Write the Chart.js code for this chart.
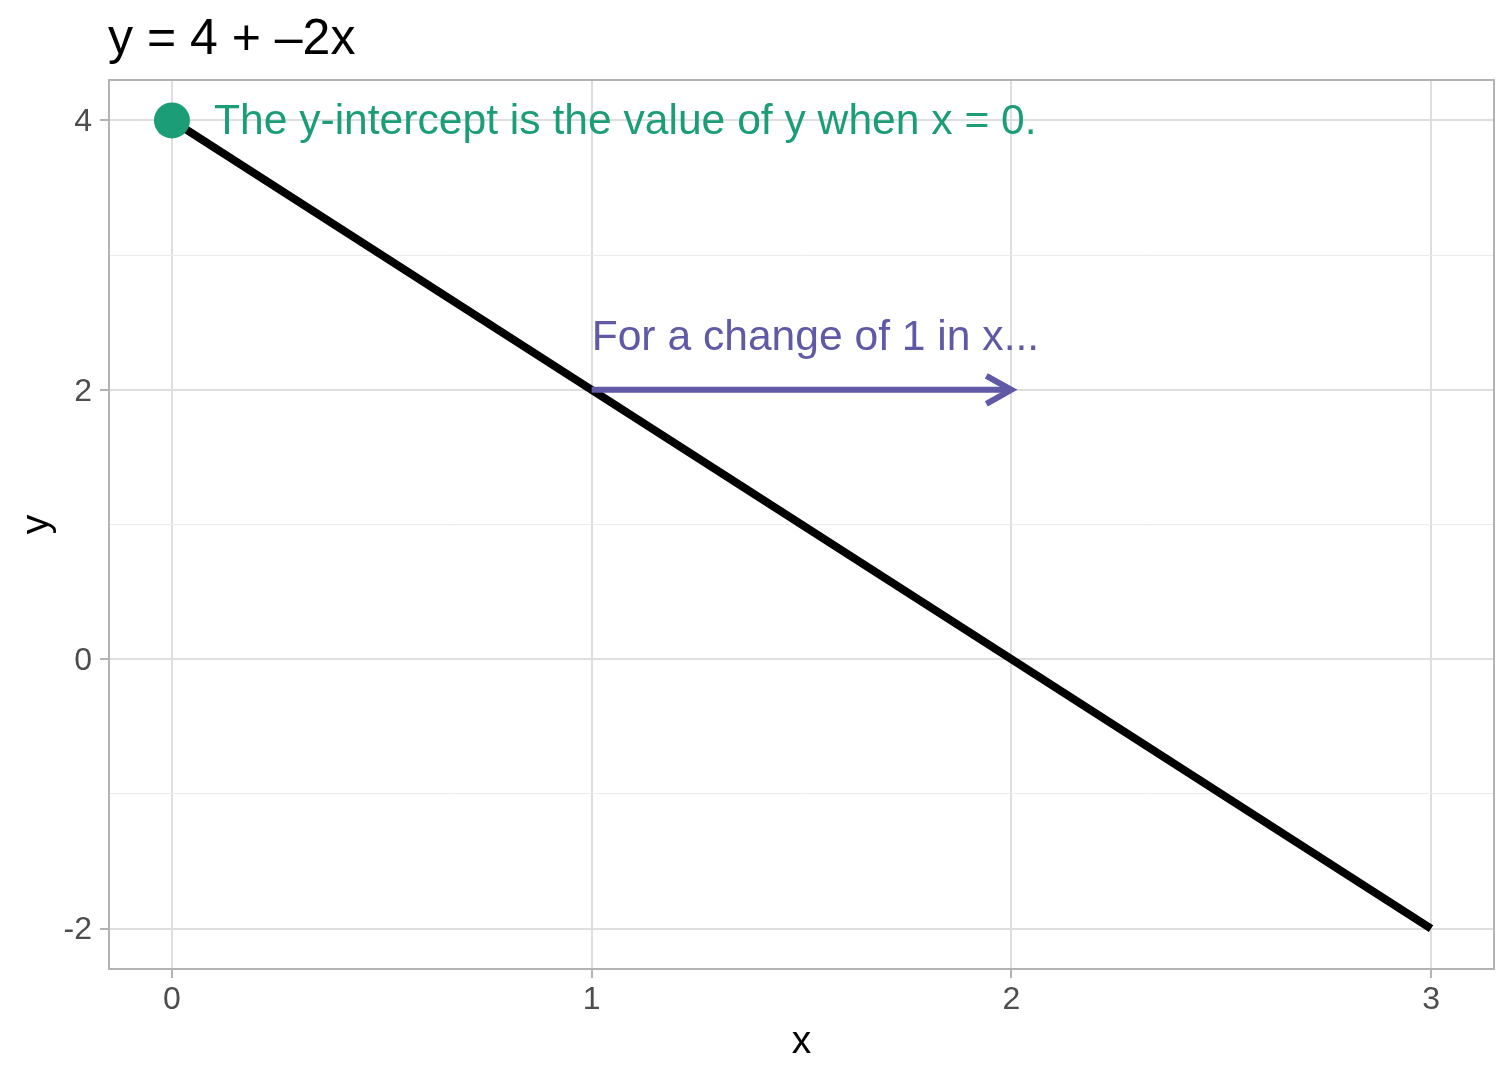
<!DOCTYPE html>
<html>
<head>
<meta charset="utf-8">
<title>y = 4 + –2x</title>
<script src="https://cdn.jsdelivr.net/npm/chart.js"></script>
<style>
    html, body { margin: 0; padding: 0; background: #fff; }
    canvas { display: block; }
</style>
</head>
<body>
<canvas id="lineChart" width="1512" height="1080"></canvas>
<script>
// data
const xTicks = [0, 1, 2, 3];
const yTicks = [-2, 0, 2, 4];
const yMinor = [-1, 1, 3];
const lineX = [0, 1, 2, 3];
const lineY = [4, 2, 0, -2];
const interceptX = [0];
const interceptY = [4];
const arrowX = [1, 2];
const arrowY = [2, 2];

const titleText = 'y = 4 + –2x';
const interceptLabel = 'The y-intercept is the value of y when x = 0.';
const slopeLabel = 'For a change of 1 in x...';

const green = '#1B9E77';
const purple = '#5F59A6';
const fontFamily = '"Liberation Sans", Arial, Helvetica, sans-serif';

Chart.defaults.font.family = fontFamily;

function toPoints(xs, ys) {
    return xs.map((v, i) => ({ x: v, y: ys[i] }));
}

// title, arrow head, text labels and panel border
const annotationPlugin = {
    id: 'annotations',
    afterDatasetsDraw(chart) {
        const { ctx, chartArea, scales: { x, y } } = chart;
        ctx.save();

        // arrow head at the end of the purple segment
        const tipX = x.getPixelForValue(arrowX[arrowX.length - 1]);
        const tipY = y.getPixelForValue(arrowY[arrowY.length - 1]);
        ctx.strokeStyle = purple;
        ctx.lineWidth = 6;
        ctx.lineJoin = 'miter';
        ctx.lineCap = 'butt';
        ctx.beginPath();
        ctx.moveTo(tipX - 25, tipY - 14);
        ctx.lineTo(tipX, tipY);
        ctx.lineTo(tipX - 25, tipY + 14);
        ctx.stroke();

        // labels
        ctx.font = '42.6px ' + fontFamily;
        ctx.textAlign = 'left';
        ctx.textBaseline = 'middle';
        ctx.fillStyle = green;
        ctx.fillText(interceptLabel, x.getPixelForValue(0.1), y.getPixelForValue(4) + 2);
        ctx.fillStyle = purple;
        ctx.fillText(slopeLabel, x.getPixelForValue(1), y.getPixelForValue(2.4) + 2);

        // panel border
        ctx.strokeStyle = '#B3B3B3';
        ctx.lineWidth = 2;
        ctx.strokeRect(chartArea.left, chartArea.top, chartArea.width, chartArea.height);
        ctx.restore();
    },
    afterDraw(chart) {
        const ctx = chart.ctx;
        ctx.save();
        ctx.font = '50px ' + fontFamily;
        ctx.fillStyle = '#000';
        ctx.textAlign = 'left';
        ctx.textBaseline = 'alphabetic';
        ctx.fillText(titleText, 108, 54);
        ctx.restore();
    }
};

const ctx = document.getElementById('lineChart').getContext('2d');

const chart = new Chart(ctx, {
    type: 'scatter',
    data: {
        datasets: [{
            label: 'intercept',
            data: toPoints(interceptX, interceptY),
            pointRadius: 18,
            pointBackgroundColor: green,
            pointBorderColor: green,
            pointBorderWidth: 0
        }, {
            label: 'change in x',
            data: toPoints(arrowX, arrowY),
            showLine: true,
            borderColor: purple,
            borderWidth: 6,
            borderCapStyle: 'butt',
            pointRadius: 0
        }, {
            label: 'y = 4 + -2x',
            data: toPoints(lineX, lineY),
            showLine: true,
            borderColor: '#000',
            borderWidth: 8,
            borderCapStyle: 'butt',
            pointRadius: 0
        }]
    },
    options: {
        responsive: false,
        animation: false,
        devicePixelRatio: 1,
        layout: {
            padding: { top: 80, right: 17.5, left: 0, bottom: 0 }
        },
        plugins: {
            legend: { display: false },
            tooltip: { enabled: false }
        },
        scales: {
            x: {
                type: 'linear',
                min: -0.15,
                max: 3.15,
                afterBuildTicks: s => { s.ticks = xTicks.map(v => ({ value: v })); },
                afterFit: s => { s.height = 111; },
                ticks: {
                    color: '#4D4D4D',
                    font: { size: 32 },
                    padding: 3,
                    autoSkip: false,
                    maxRotation: 0
                },
                grid: {
                    color: '#DEDEDE',
                    lineWidth: 2,
                    tickLength: 9,
                    tickColor: '#B3B3B3',
                    tickWidth: 2
                },
                border: { display: false },
                title: {
                    display: true,
                    text: 'x',
                    color: '#000',
                    font: { size: 39 },
                    padding: { top: 0, bottom: 14 }
                }
            },
            y: {
                type: 'linear',
                min: -2.3,
                max: 4.3,
                afterBuildTicks: s => {
                    s.ticks = yTicks.concat(yMinor).sort((a, b) => a - b).map(v => ({ value: v }));
                },
                afterFit: s => { s.width = 109; },
                ticks: {
                    color: '#4D4D4D',
                    font: { size: 32 },
                    padding: 8,
                    labelOffset: 2,
                    autoSkip: false,
                    callback: v => yTicks.includes(v) ? String(v) : ''
                },
                grid: {
                    color: c => yMinor.includes(c.tick.value) ? '#EBEBEB' : '#DEDEDE',
                    lineWidth: c => yMinor.includes(c.tick.value) ? 1 : 2,
                    tickLength: 9,
                    tickColor: c => yMinor.includes(c.tick.value) ? 'rgba(0,0,0,0)' : '#B3B3B3',
                    tickWidth: 2
                },
                border: { display: false },
                title: {
                    display: true,
                    text: 'y',
                    color: '#000',
                    font: { size: 39 },
                    padding: { top: 14, bottom: 0 }
                }
            }
        }
    },
    plugins: [annotationPlugin]
});
</script>
</body>
</html>
